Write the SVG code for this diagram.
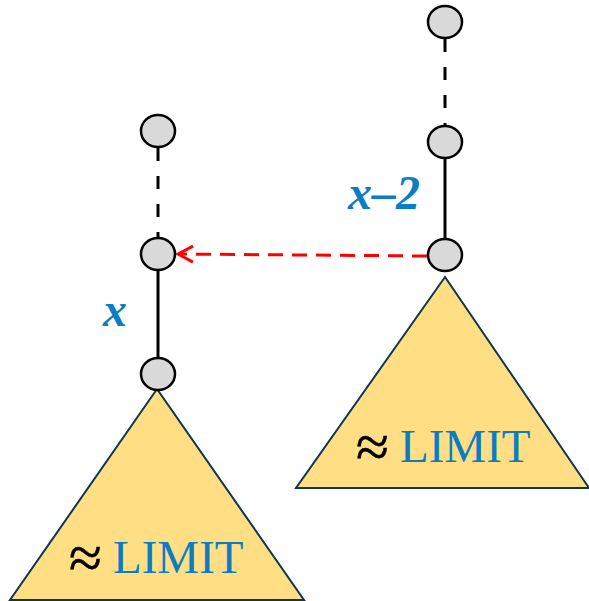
<svg xmlns="http://www.w3.org/2000/svg" width="589" height="601" viewBox="0 0 589 601">
<defs>
<style>
.node{fill:#D9D9D9;stroke:#000;stroke-width:2.5}
.tri{fill:#FFDE84;stroke:#0F3552;stroke-width:2}
.solid{stroke:#000;stroke-width:3;fill:none}
.dash{stroke:#000;stroke-width:3;fill:none;stroke-dasharray:13 15}
.red{stroke:#FF0000;stroke-width:3;fill:none;stroke-dasharray:15 9}
.lbl{font-family:"Liberation Serif",serif;font-style:italic;font-weight:bold;font-size:48px;fill:#0B7DC2}
.lim{font-family:"Liberation Serif",serif;font-size:47px;fill:#0B7DC2}
.apx{font-family:"Liberation Serif",serif;font-size:60px;fill:#000;stroke:#000;stroke-width:0.5}
</style>
<marker id="open" viewBox="0 0 20 20" refX="17" refY="10" markerWidth="20" markerHeight="20" markerUnits="userSpaceOnUse" orient="auto">
<path d="M2,2 L17,10 L2,18" fill="none" stroke="#FF0000" stroke-width="3"/>
</marker>
</defs>
<g id="connectors">
<line class="dash" x1="158" y1="148" x2="158" y2="237"/>
<line class="solid" x1="158" y1="271" x2="158" y2="357"/>
<line class="dash" x1="445" y1="39" x2="445" y2="125"/>
<line class="solid" x1="445" y1="159" x2="445" y2="238"/>
<line class="red" x1="427" y1="256" x2="178" y2="254" marker-end="url(#open)"/>
</g>
<g id="tree-left">
<polygon class="tri" points="157,389 10,600 304,600"/>
<text x="69" y="578" class="apx">≈</text>
<text x="113" y="573" class="lim">LIMIT</text>
</g>
<g id="tree-right">
<polygon class="tri" points="445,277 296,488 589,488"/>
<text x="356" y="467" class="apx">≈</text>
<text x="400" y="462" class="lim">LIMIT</text>
</g>
<g id="node-l1"><ellipse class="node" cx="158" cy="131" rx="17" ry="16"/></g>
<g id="node-l2"><ellipse class="node" cx="158" cy="254" rx="17" ry="16"/></g>
<g id="node-l3"><ellipse class="node" cx="158" cy="374" rx="17" ry="16"/></g>
<g id="node-r1"><ellipse class="node" cx="445" cy="22" rx="17" ry="16"/></g>
<g id="node-r2"><ellipse class="node" cx="445" cy="142" rx="17" ry="16"/></g>
<g id="node-r3"><ellipse class="node" cx="445" cy="255" rx="17" ry="16"/></g>
<g id="label-x"><text class="lbl" x="103" y="326">x</text></g>
<g id="label-x2"><text class="lbl" x="348" y="209">x–2</text></g>
</svg>
